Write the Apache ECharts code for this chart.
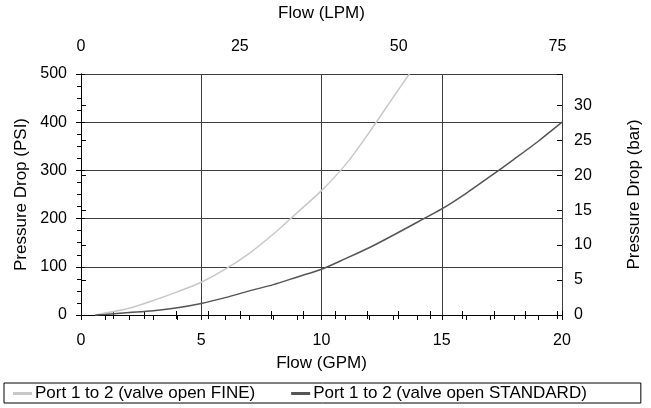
<!DOCTYPE html>
<html>
<head>
<meta charset="utf-8">
<script src="https://cdn.jsdelivr.net/npm/echarts@6/dist/echarts.min.js"></script>
<style>html,body{margin:0;padding:0;background:#fff}#c{width:651px;height:408px}</style>
</head>
<body>
<div id="c"></div>
<script>
// Flow in GPM (x) and pressure drop in PSI (y)
const fineGpm = [0.6, 1, 2, 3, 4, 5, 6, 7, 8, 9, 10, 11, 12, 13, 13.65];
const finePsi = [0, 4, 14, 30, 48, 68, 95, 128, 168, 213, 258, 312, 380, 453, 500];
const stdGpm = [0.6, 1, 2, 3, 4, 5, 6, 7, 8, 9, 10, 11, 12, 13, 14, 15, 16, 17, 18, 19, 20];
const stdPsi = [0, 1, 5, 9, 15, 24, 36, 50, 63, 79, 95, 117, 140, 166, 193, 220, 252, 287, 323, 360, 400];
const seriesNames = ['Port 1 to 2 (valve open FINE)', 'Port 1 to 2 (valve open STANDARD)'];
const gpmTicks = [0, 5, 10, 15, 20];
const lpmTicks = [0, 25, 50, 75];
const psiTicks = [0, 100, 200, 300, 400, 500];
const barTicks = [0, 5, 10, 15, 20, 25, 30];

const GPM_MAX = 20, PSI_MAX = 500;
const LPM_PER_GPM = 3.78541, PSI_PER_BAR = 14.5038;
const FONT = 'Liberation Sans, Arial, sans-serif';
const lab = {color: '#000', fontFamily: FONT, fontSize: 16};
const nameStyle = {color: '#000', fontFamily: FONT, fontSize: 17};
const black = {show: true, lineStyle: {color: '#000', width: 1}};

const zip = (a, b) => a.map((v, i) => [v, b[i]]);

const chart = echarts.init(document.getElementById('c'), null, {renderer: 'canvas'});
chart.setOption({
  animation: false,
  backgroundColor: '#fff',
  grid: {left: 81, right: 80, top: 69, bottom: 93, containLabel: false},
  legend: {
    left: 4, top: 383,
    padding: [2, 54, 1, 9],
    itemGap: 36, itemWidth: 19, itemHeight: 3, icon: 'rect',
    borderColor: '#000', borderWidth: 1, borderRadius: 0,
    textStyle: {color: '#000', fontFamily: FONT, fontSize: 17, padding: [0, 0, 0, -2]},
    data: seriesNames
  },
  xAxis: [
    {
      type: 'value', position: 'bottom', min: gpmTicks[0], max: GPM_MAX, interval: 5,
      name: 'Flow (GPM)', nameLocation: 'middle', nameGap: 40, nameTextStyle: nameStyle,
      axisLine: black, axisTick: {show: true, length: 5, lineStyle: {color: '#000'}},
      minorTick: {show: true, splitNumber: 5, length: 5, lineStyle: {color: '#000'}},
      axisLabel: Object.assign({margin: 18, formatter: v => gpmTicks.includes(v) ? String(v) : ''}, lab),
      splitLine: {show: true, lineStyle: {color: '#3c3c3c', width: 1}}
    },
    {
      type: 'value', position: 'top', min: lpmTicks[0], max: GPM_MAX * LPM_PER_GPM, interval: 25,
      name: 'Flow (LPM)', nameLocation: 'middle', nameGap: 52, nameTextStyle: nameStyle,
      axisLine: black, axisTick: {show: true, length: 4, lineStyle: {color: '#000'}},
      minorTick: {show: true, splitNumber: 5, length: 4, lineStyle: {color: '#000'}},
      axisLabel: Object.assign({margin: 19, showMaxLabel: false, formatter: v => lpmTicks.includes(v) ? String(v) : ''}, lab),
      splitLine: {show: false}
    },
    {
      type: 'value', position: 'top', min: lpmTicks[0], max: GPM_MAX * LPM_PER_GPM, interval: 25,
      axisLine: {show: false}, axisLabel: {show: false}, splitLine: {show: false},
      axisTick: {show: true, inside: true, length: 4, lineStyle: {color: '#000'}},
      minorTick: {show: true, splitNumber: 5, length: 4, lineStyle: {color: '#000'}}
    }
  ],
  yAxis: [
    {
      type: 'value', position: 'left', min: psiTicks[0], max: PSI_MAX, interval: 100,
      name: 'Pressure Drop (PSI)', nameLocation: 'middle', nameGap: 50, nameRotate: 90, nameTextStyle: nameStyle,
      axisLine: black, axisTick: {show: true, length: 5, lineStyle: {color: '#000'}},
      minorTick: {show: true, splitNumber: 4, length: 4, lineStyle: {color: '#000'}},
      axisLabel: Object.assign({margin: 14}, lab),
      splitLine: {show: true, lineStyle: {color: '#3c3c3c', width: 1}}
    },
    {
      type: 'value', position: 'right', min: barTicks[0], max: PSI_MAX / PSI_PER_BAR, interval: 5,
      name: 'Pressure Drop (bar)', nameLocation: 'middle', nameGap: 64, nameRotate: 90, nameTextStyle: nameStyle,
      axisLine: black, axisTick: {show: true, length: 5, lineStyle: {color: '#000'}},
      axisLabel: Object.assign({margin: 12, showMaxLabel: false}, lab),
      splitLine: {show: false}
    },
    {
      type: 'value', position: 'left', min: psiTicks[0], max: PSI_MAX, interval: 100,
      axisLine: {show: false}, axisLabel: {show: false}, splitLine: {show: false},
      axisTick: {show: true, inside: true, length: 4, lineStyle: {color: '#000'}}
    },
    {
      type: 'value', position: 'right', min: barTicks[0], max: PSI_MAX / PSI_PER_BAR, interval: 5,
      axisLine: {show: false}, axisLabel: {show: false}, splitLine: {show: false},
      axisTick: {show: true, inside: true, length: 5, lineStyle: {color: '#000'}}
    }
  ],
  series: [
    {
      name: seriesNames[0], type: 'line', xAxisIndex: 0, yAxisIndex: 0,
      data: zip(fineGpm, finePsi), showSymbol: false, symbol: 'none', smooth: 0.3,
      lineStyle: {color: '#c8c8c8', width: 1.5}, itemStyle: {color: '#c8c8c8'}
    },
    {
      name: seriesNames[1], type: 'line', xAxisIndex: 0, yAxisIndex: 0,
      data: zip(stdGpm, stdPsi), showSymbol: false, symbol: 'none', smooth: 0.3,
      lineStyle: {color: '#555', width: 1.5}, itemStyle: {color: '#555'}
    }
  ]
});
</script>
</body>
</html>
